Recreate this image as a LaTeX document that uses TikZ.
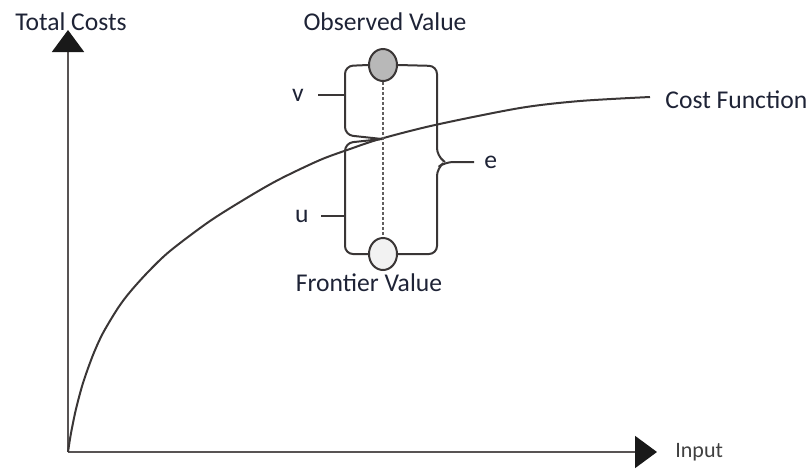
\documentclass[tikz,border=0pt]{standalone}
\usepackage{fontspec}
\setmainfont{Carlito}
\usepackage{tikz}
\usetikzlibrary{shapes.geometric, arrows.meta, positioning}
\definecolor{inkline}{HTML}{3A3636}
\definecolor{inktext}{HTML}{1E2336}

\begin{document}
\begin{tikzpicture}[
  x=0.5pt, y=-0.5pt,
  lbl/.style={font=\fontsize{12.8}{15}\selectfont, text=inktext, inner sep=1pt},
  axis/.style={draw=inkline!85, line width=1pt, -{Triangle[length=11pt, width=16pt, color=black!90]}},
  brack/.style={draw=inkline, line width=1pt, rounded corners=4pt},
  dot/.style={ellipse, draw=inkline, line width=1pt, minimum width=14pt, minimum height=16pt, inner sep=0pt},
]
\useasboundingbox (0,0) rectangle (811,472);

% axes
\coordinate (orig) at (68,452);
\coordinate (ytop) at (68,30);
\coordinate (xend) at (657,452);
\draw[axis] (orig) -- (ytop);
\draw[axis] (orig) -- (xend);
\node[lbl] (ylab) at (71,22) {Total Costs};
\node[lbl, font=\fontsize{11}{13}\selectfont, text=black!75, right=8pt of xend] (xlab) {Input};

% cost function
\draw[draw=inkline, line width=1pt] plot[smooth] coordinates {
  (68,452) (70,439) (72,428) (76,409) (83,383) (93,355) (103,333) (118,308)
  (130,292) (148,272) (170,251) (210,221) (250,196) (280,179) (320,160)
  (350,149) (380,139) (435,125) (520,108) (580,101) (650,97)};
\node[lbl, anchor=west] (cf) at (663,100) {Cost Function};

% observed and frontier values
\node[dot, fill=black!28] (obs) at (383,65) {};
\node[dot, fill=black!5] (front) at (383,254) {};
\node[lbl] (obslab) at (385,22) {Observed Value};
\node[lbl] (frontlab) at (369,283) {Frontier Value};
\draw[inkline!80, line width=0.8pt, dash pattern=on 1.5pt off 1pt] (obs.south) -- (front.north);
\coordinate (cross) at (382,139);

% v
\draw[brack] (obs.west) -- (345,66) -- (345,135) -- (cross);
\coordinate (vend) at (318,95);
\draw[brack] (vend) -- (345,95);
\node[lbl, left=6pt of vend] (vlab) {v};

% u
\draw[brack] (cross) -- (345,143) -- (345,254) -- (front.west);
\coordinate (uend) at (321,216);
\draw[brack] (uend) -- (345,216);
\node[lbl, left=5pt of uend] (ulab) {u};

% e
\coordinate (eend) at (474,162);
\draw[brack] (obs.east) -- (437,66) -- (437,156) -- (445,162);
\draw[brack] (front.east) -- (437,254) -- (437,168) -- (445,162) -- (eend);
\node[lbl, right=4pt of eend] (elab) {e};
\end{tikzpicture}
\end{document}
